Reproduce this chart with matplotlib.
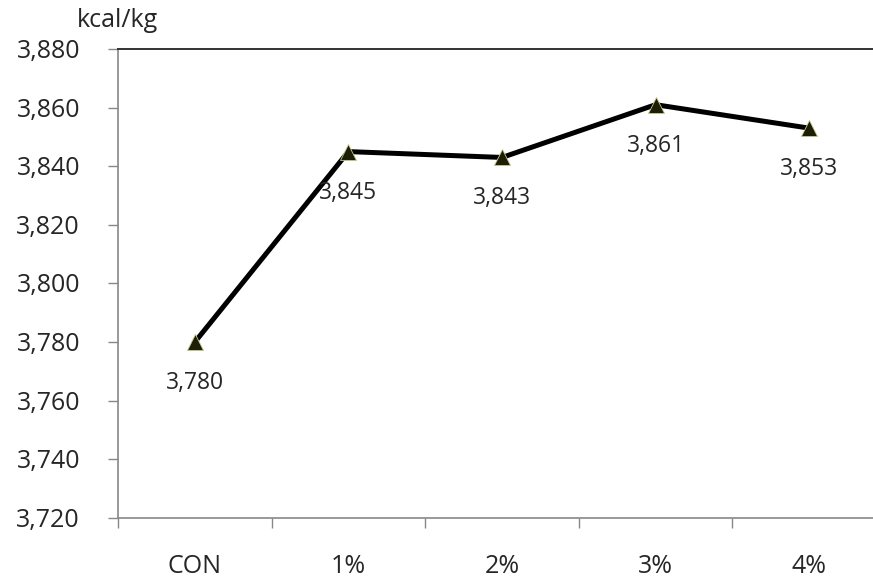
import matplotlib
matplotlib.use("Agg")
import matplotlib.pyplot as plt

categories = ["CON", "1%", "2%", "3%", "4%"]
values = [3780, 3845, 3843, 3861, 3853]
yticks = [3720, 3740, 3760, 3780, 3800, 3820, 3840, 3860, 3880]

plt.rcParams['font.family'] = ['Open Sans', 'DejaVu Sans']
TXT = "#262626"

W, H = 873, 580
fig = plt.figure(figsize=(W / 100, H / 100), dpi=100)
left, right, top, bottom = 118, 886, 49, 518
ax = fig.add_axes([left / W, 1 - bottom / H, (right - left) / W, (bottom - top) / H])

x = list(range(len(categories)))
ax.plot(x, values, color="black", lw=3.6, zorder=3, solid_joinstyle="miter")
ax.plot(x, values, linestyle="none", marker="^", ms=12, mfc="#1c1f05",
        mec="#c8c890", mew=0.6, zorder=4)

# value labels under each point
for xi, v in zip(x, values):
    ax.annotate(f"{v:,}", (xi, v), xytext=(0, -47), textcoords="offset pixels",
                ha="center", va="baseline", fontsize=16.5, color=TXT)

ax.set_xlim(-0.5, len(categories) - 0.5)
ax.set_ylim(yticks[0], yticks[-1])

# y ticks with labels placed at a fixed column on the left
ax.set_yticks(yticks)
ax.set_yticklabels([])
for t in yticks:
    ax.annotate(f"{t:,}", xy=(80, t), xycoords=("figure pixels", "data"),
                xytext=(0, -9), textcoords="offset pixels",
                ha="right", va="baseline", fontsize=18, color=TXT,
                annotation_clip=False)

# category boundaries as ticks, names centred between them
ax.set_xticks([i - 0.5 for i in range(len(categories) + 1)])
ax.set_xticklabels([])
for xi, name in zip(x, categories):
    ax.annotate(name, xy=(xi, H - 573), xycoords=("data", "figure pixels"),
                ha="center", va="baseline", fontsize=18, color=TXT,
                annotation_clip=False)

ax.tick_params(axis="x", length=7, width=1, color="#888888", direction="out")
ax.tick_params(axis="y", length=7, width=1, color="#888888", direction="out")

for s in ["left", "bottom"]:
    ax.spines[s].set_color("#888888")
    ax.spines[s].set_linewidth(1.2)
ax.spines["top"].set_color("#333333")
ax.spines["top"].set_linewidth(1.4)
ax.spines["right"].set_visible(False)

fig.text(77 / W, (H - 27) / H, "kcal/kg", ha="left", va="baseline", fontsize=18, color=TXT)

fig.savefig("out.png", dpi=100)
